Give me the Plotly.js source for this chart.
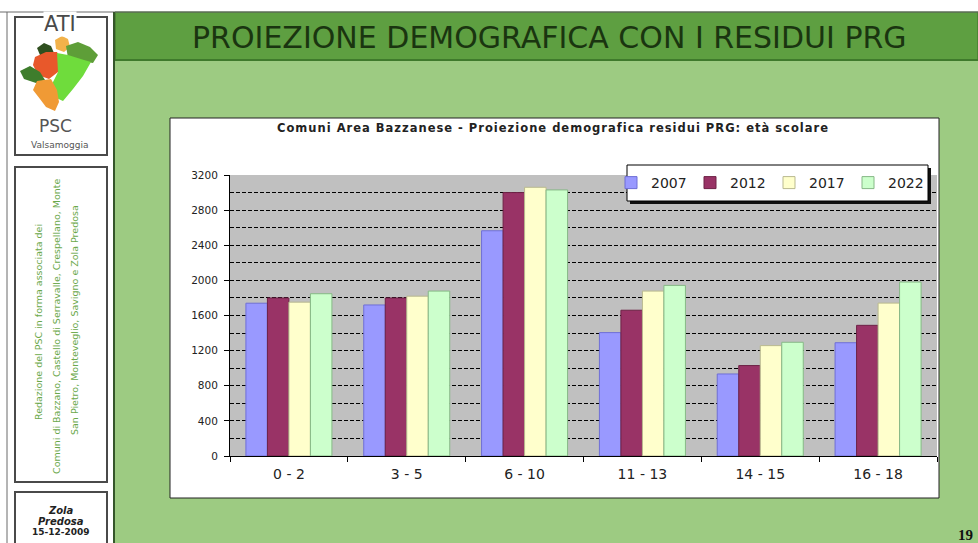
<!DOCTYPE html>
<html>
<head>
<meta charset="utf-8">
<script src="https://cdn.plot.ly/plotly-3.0.1.min.js"></script>
<style>html,body{margin:0;padding:0;background:#fff;}#chart{width:978px;height:543px;}
.gtitle{letter-spacing:1px;}
</style>
</head>
<body>
<div id="chart"></div>
<script>
// ---- data ----
const categories = ['0 - 2', '3 - 5', '6 - 10', '11 - 13', '14 - 15', '16 - 18'];
const years = ['2007', '2012', '2017', '2022'];
const v2007 = [1740, 1720, 2565, 1405, 934, 1290];
const v2012 = [1800, 1800, 3000, 1660, 1030, 1488];
const v2017 = [1752, 1820, 3060, 1878, 1257, 1741];
const v2022 = [1848, 1878, 3030, 1943, 1295, 1981];
const seriesValues = [v2007, v2012, v2017, v2022];

// ---- styles ----
const fills = ['#9999ff', '#993366', '#ffffcc', '#ccffcc'];
const edges = ['#6f6fd6', '#6e2246', '#b9b98f', '#86b886'];

const W = 978, H = 543, ML = 230, MR = 41, MT = 175, MB = 87;
const PW = W - ML - MR, PH = H - MT - MB;
const X = px => (px - ML) / PW;
const Y = py => (H - MB - py) / PH;

const shapes = [];
function rect(x0, y0, x1, y1, fill, line, lw, layer) {
  shapes.push({type: 'rect', xref: 'paper', yref: 'paper',
    x0: X(x0), x1: X(x1), y0: Y(y1), y1: Y(y0),
    fillcolor: fill, line: {color: line || 'rgba(0,0,0,0)', width: lw || 0},
    layer: layer || 'below'});
}
function line(x0, y0, x1, y1, color, w) {
  shapes.push({type: 'line', xref: 'paper', yref: 'paper',
    x0: X(x0), x1: X(x1), y0: Y(y0), y1: Y(y1),
    line: {color: color, width: w}, layer: 'below'});
}
function poly(pts, fill) {
  const d = pts.map((p, i) => (i ? 'L' : 'M') + X(p[0]) + ',' + Y(p[1])).join('') + 'Z';
  shapes.push({type: 'path', xref: 'paper', yref: 'paper', path: d,
    fillcolor: fill, line: {width: 0}, layer: 'below'});
}

// slide background
rect(115, 12, 978, 60, '#5e9f41', '#3d6e2b', 1);
rect(115, 60, 978, 543, '#9dcb82');
line(115, 60, 978, 60, '#3f7a2c', 2);
line(0, 12, 978, 12, '#6a6a6a', 1);
line(7, 12, 7, 543, '#6a6a6a', 1);
line(114, 12, 114, 543, '#35562a', 2);
// left panel boxes
rect(15, 17, 107, 155, '#ffffff', '#4a4a4a', 2);
rect(15, 167, 107, 482, '#ffffff', '#4a4a4a', 2);
rect(15, 492, 107, 552, '#ffffff', '#4a4a4a', 2);
// logo map
poly([[55,40],[62,36],[68,39],[70,47],[64,52],[56,49]], '#f2b24a');
poly([[66,46],[78,42],[90,47],[98,55],[93,63],[80,61],[68,58]], '#5e9e38');
poly([[37,48],[44,43],[51,46],[54,53],[47,57],[40,55]], '#2f4f1f');
poly([[35,57],[46,52],[57,52],[61,60],[58,72],[49,79],[38,75],[33,65]], '#e8582b');
poly([[57,53],[68,55],[84,60],[91,62],[83,76],[73,89],[63,101],[54,97],[52,84],[58,72]], '#6fdc3c');
poly([[20,71],[30,66],[40,72],[45,80],[36,83],[24,79]], '#3e7d2c');
poly([[37,81],[51,79],[57,90],[59,102],[55,111],[46,107],[40,99],[33,90]], '#f09a35');
// chart box & plot area
rect(170, 118, 939, 498, '#ffffff', '#222222', 1);
rect(230, 175, 937, 456, '#c0c0c0');
// legend box with shadow
rect(630, 168, 931, 204, '#111111', null, 0, 'above');
rect(627, 165, 928, 201, '#ffffff', '#000000', 1, 'above');

const ann = [];
function txt(x, y, text, size, color, opts) {
  ann.push(Object.assign({xref: 'paper', yref: 'paper', x: X(x), y: Y(y), text: text,
    showarrow: false, xanchor: 'center', yanchor: 'middle',
    font: {family: 'DejaVu Sans', size: size, color: color}}, opts || {}));
}
txt(549, 37, 'PROIEZIONE DEMOGRAFICA CON I RESIDUI PRG', 30, '#1a3510');
txt(60, 24, 'ATI', 21, '#4a4a4a', {bgcolor: '#ffffff', borderpad: 0});
txt(55, 126, 'PSC', 17, '#555555');
txt(59, 145, 'Valsamoggia', 9, '#555555');
txt(38, 322, 'Redazione del PSC in forma associata dei', 9.5, '#6aa84a', {textangle: -90});
txt(56, 326, 'Comuni di Bazzano, Castello di Serravalle, Crespellano, Monte', 9.5, '#6aa84a', {textangle: -90});
txt(74, 320, 'San Pietro, Monteveglio, Savigno e Zola Predosa', 9.5, '#6aa84a', {textangle: -90});
txt(61, 510, '<b><i>Zola</i></b>', 10, '#222222');
txt(61, 521, '<b><i>Predosa</i></b>', 10, '#222222');
txt(61, 532, '<b>15-12-2009</b>', 9, '#222222');
ann.push({xref: 'paper', yref: 'paper', x: X(956), y: Y(535), xanchor: 'left', yanchor: 'middle',
  text: '<b>19</b>', showarrow: false, font: {family: 'Liberation Serif', size: 15, color: '#111'}});

const traces = years.map((yr, i) => ({
  type: 'bar', name: yr, x: categories, y: seriesValues[i],
  marker: {color: fills[i], line: {color: edges[i], width: 1}}
}));

const layout = {
  width: W, height: H,
  margin: {l: ML, r: MR, t: MT, b: MB, pad: 0},
  paper_bgcolor: '#ffffff', plot_bgcolor: 'rgba(0,0,0,0)',
  barmode: 'group', bargap: 0.27, bargroupgap: 0,
  title: {text: 'Comuni Area Bazzanese - Proiezione demografica residui PRG: età scolare',
    xref: 'container', yref: 'container', x: 553 / W, y: 1 - 128 / H,
    xanchor: 'center', yanchor: 'middle',
    font: {family: 'DejaVu Sans', size: 11.5, color: '#222', weight: 'bold'}},
  showlegend: true,
  legend: {orientation: 'h', x: X(611), y: Y(167), xanchor: 'left', yanchor: 'top',
    bgcolor: 'rgba(0,0,0,0)', borderwidth: 0, entrywidth: 34, entrywidthmode: 'pixels',
    font: {family: 'DejaVu Sans', size: 14, color: '#222'}},
  xaxis: {type: 'category', showline: true, linecolor: '#000', linewidth: 1,
    ticks: 'outside', tickson: 'boundaries', ticklen: 5, tickcolor: '#000', tickwidth: 1,
    showgrid: false, zeroline: false, ticklabelstandoff: 5,
    tickfont: {family: 'DejaVu Sans', size: 14, color: '#222'}},
  yaxis: {range: [0, 3200], tickmode: 'linear', tick0: 0, dtick: 400,
    showline: true, linecolor: '#000', linewidth: 1,
    ticks: 'outside', ticklen: 5, tickcolor: '#000', tickwidth: 1,
    showgrid: true, gridcolor: '#000', gridwidth: 1, griddash: '4px,2px',
    zeroline: false, ticklabelstandoff: 4,
    minor: {tick0: 0, dtick: 200, showgrid: true, gridcolor: '#000', gridwidth: 1, griddash: '4px,2px', ticks: ''},
    tickfont: {family: 'DejaVu Sans', size: 10.5, color: '#222'}},
  shapes: shapes,
  annotations: ann
};

Plotly.newPlot('chart', traces, layout, {displayModeBar: false, staticPlot: true});
</script>
</body>
</html>
